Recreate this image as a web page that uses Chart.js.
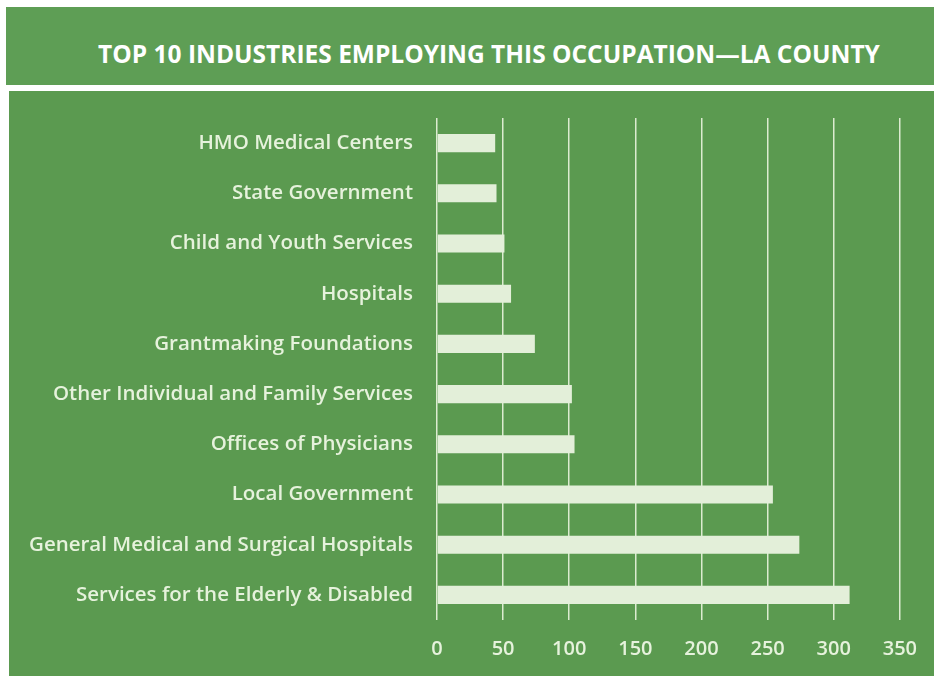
<!DOCTYPE html>
<html>
<head>
<meta charset="utf-8">
<script src="https://cdn.jsdelivr.net/npm/chart.js@4.4.1/dist/chart.umd.min.js"></script>
<style>
	body { margin: 0; background: #ffffff; width: 934px; height: 676px; overflow: hidden; position: relative; }
	#titlebox {
		position: absolute; left: 6px; top: 7px; width: 928px; height: 78px;
		background: #5e9e55; color: #ffffff;
		font-family: "Open Sans", sans-serif; font-weight: 700; font-size: 24.5px;
		line-height: 78px; text-align: center; padding-left: 38px; padding-top: 8px; box-sizing: border-box;
	}
	#chartbox {
		position: absolute; left: 9px; top: 91px; width: 925px; height: 585px;
		background: #5b9a50;
	}
	canvas { display: block; }
</style>
</head>
<body>
<div id="titlebox">TOP 10 INDUSTRIES EMPLOYING THIS OCCUPATION—LA COUNTY</div>
<div id="chartbox"><canvas id="mycanvas" width="925" height="585"></canvas></div>
<script>
var industries = [
	"HMO Medical Centers",
	"State Government",
	"Child and Youth Services",
	"Hospitals",
	"Grantmaking Foundations",
	"Other Individual and Family Services",
	"Offices of Physicians",
	"Local Government",
	"General Medical and Surgical Hospitals",
	"Services for the Elderly & Disabled"
];
var employment = [44, 45, 51, 56, 74, 102, 104, 254, 274, 312];
var xTicks = [0, 50, 100, 150, 200, 250, 300, 350];

var textColor = "#e6f2dc";

var chartdata = {
	labels: industries,
	datasets: [
		{
			label: 'Employment',
			backgroundColor: "#e3efd9",
			borderWidth: 0,
			barPercentage: 0.36,
			categoryPercentage: 1,
			data: employment
		}
	]
};

var ctx = document.getElementById("mycanvas");

var barGraph = new Chart(ctx, {
	type: 'bar',
	data: chartdata,
	options: {
		indexAxis: 'y',
		responsive: false,
		animation: false,
		layout: { padding: { top: 27, right: 31, left: 0, bottom: 0 } },
		plugins: {
			legend: { display: false },
			tooltip: { enabled: false }
		},
		scales: {
			x: {
				min: 0,
				max: 350,
				afterBuildTicks: function(scale) {
					scale.ticks = xTicks.map(function(v) { return { value: v }; });
				},
				afterFit: function(scale) { scale.height = 56; },
				grid: { color: "#dcebd0", lineWidth: 1.5, drawTicks: false },
				border: { display: false },
				ticks: {
					color: textColor,
					padding: 17,
					font: { family: "Open Sans", size: 20, weight: 600 }
				}
			},
			y: {
				afterFit: function(scale) { scale.width = 428; },
				grid: { display: false, drawTicks: true, tickLength: 20 },
				border: { display: false },
				ticks: {
					color: textColor,
					padding: 4,
					font: { family: "Open Sans", size: 20.5, weight: 600 }
				}
			}
		}
	}
});
</script>
</body>
</html>
